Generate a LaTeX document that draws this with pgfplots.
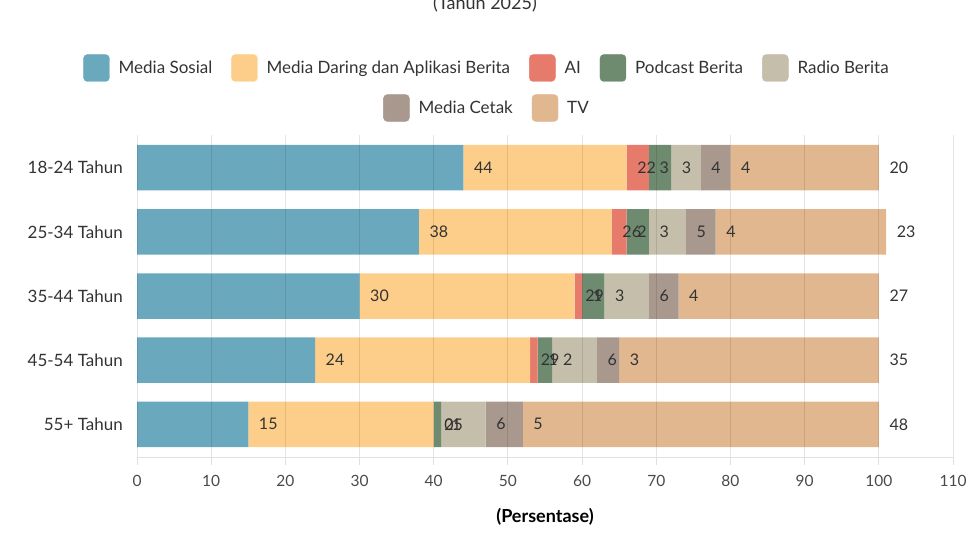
\documentclass[border=0pt]{standalone}
\usepackage{fontspec}
\setmainfont{Lato}
\usepackage{pgfplots}
\usepackage{pgfplotstable}
\pgfplotsset{compat=1.18}

\definecolor{cSosial}{HTML}{6AA8BE}
\definecolor{cDaring}{HTML}{FDCD8A}
\definecolor{cAI}{HTML}{E67B6C}
\definecolor{cPodcast}{HTML}{6E8B70}
\definecolor{cRadio}{HTML}{C5BEAA}
\definecolor{cCetak}{HTML}{A8988E}
\definecolor{cTV}{HTML}{E0B78E}
\definecolor{txt}{HTML}{333333}
\definecolor{ticktxt}{HTML}{4A4A4A}

% Share of main news source by age group (percent); row 4 is the top bar
\pgfplotstableread{
row sosial daring ai podcast radio cetak tv
4   44     22     3  3       4     4     20
3   38     26     2  3       5     4     23
2   30     29     1  3       6     4     27
1   24     29     1  2       6     3     35
0   15     25     0  1       6     5     48
}\datatable

\newcommand{\fs}{\fontsize{15.5}{18}\selectfont}
\newcommand{\fl}{\fontsize{17}{20}\selectfont}
\newcommand{\fv}{\fontsize{16}{19}\selectfont}
\newcommand{\ft}{\fontsize{18}{21}\selectfont}

\begin{document}
\begin{tikzpicture}
\useasboundingbox (0pt,0pt) rectangle (968pt,-543pt);

\node[anchor=base, font=\ft, text=txt] at (485pt,-10pt) {(Tahun 2025)};

% legend, first row
\begin{axis}[
  at={(486pt,-68pt)}, anchor=center,
  hide axis, scale only axis, width=10pt, height=10pt,
  xmin=0, xmax=1, ymin=0, ymax=1,
  legend columns=5,
  legend style={at={(0.5,0.5)}, anchor=center, draw=none, fill=none,
    font=\fl, text=txt, nodes={inner sep=0pt},
    /tikz/every odd column/.append style={column sep=9pt},
    /tikz/every even column/.append style={column sep=19pt}},
  legend cell align=left,
]
\addlegendimage{legend image code/.code={\fill[cSosial, rounded corners=4pt] (0pt,-13.5pt) rectangle (26pt,13.5pt);}}
\addlegendentry{Media Sosial}
\addlegendimage{legend image code/.code={\fill[cDaring, rounded corners=4pt] (0pt,-13.5pt) rectangle (26pt,13.5pt);}}
\addlegendentry{Media Daring dan Aplikasi Berita}
\addlegendimage{legend image code/.code={\fill[cAI, rounded corners=4pt] (0pt,-13.5pt) rectangle (26pt,13.5pt);}}
\addlegendentry{AI}
\addlegendimage{legend image code/.code={\fill[cPodcast, rounded corners=4pt] (0pt,-13.5pt) rectangle (26pt,13.5pt);}}
\addlegendentry{Podcast Berita}
\addlegendimage{legend image code/.code={\fill[cRadio, rounded corners=4pt] (0pt,-13.5pt) rectangle (26pt,13.5pt);}}
\addlegendentry{Radio Berita}
\end{axis}

% legend, second row
\begin{axis}[
  at={(486pt,-108pt)}, anchor=center,
  hide axis, scale only axis, width=10pt, height=10pt,
  xmin=0, xmax=1, ymin=0, ymax=1,
  legend columns=2,
  legend style={at={(0.5,0.5)}, anchor=center, draw=none, fill=none,
    font=\fl, text=txt, nodes={inner sep=0pt},
    /tikz/every odd column/.append style={column sep=9pt},
    /tikz/every even column/.append style={column sep=19pt}},
  legend cell align=left,
]
\addlegendimage{legend image code/.code={\fill[cCetak, rounded corners=4pt] (0pt,-13.5pt) rectangle (26pt,13.5pt);}}
\addlegendentry{Media Cetak}
\addlegendimage{legend image code/.code={\fill[cTV, rounded corners=4pt] (0pt,-13.5pt) rectangle (26pt,13.5pt);}}
\addlegendentry{TV}
\end{axis}

% stacked bars, each value written just right of its segment
\begin{axis}[
  compat/bar nodes=1.8,
  at={(137pt,-457pt)}, anchor=south west,
  scale only axis, width=816pt, height=322pt,
  xbar stacked, bar width=45.5pt,
  xmin=0, xmax=110, ymin=-0.51, ymax=4.51,
  axis on top,
  axis x line*=bottom, axis y line*=left,
  y axis line style={draw=none},
  x axis line style={draw=black!12, line width=1pt},
  xtick={0,10,...,110},
  ytick={0,1,2,3,4},
  yticklabels={55+ Tahun,45-54 Tahun,35-44 Tahun,25-34 Tahun,18-24 Tahun},
  tick align=outside, major tick length=8pt,
  xtick style={draw=black!12, line width=1pt},
  ytick style={draw=none},
  xmajorgrids, grid style={draw=black, opacity=0.1, line width=1pt},
  /pgf/number format/assume math mode=true,
  ticklabel style={font=\fs},
  xticklabel style={text=ticktxt, yshift=-7pt},
  yticklabel style={text=txt, inner sep=0pt, xshift=-6pt, font=\fl},
  xlabel={\textbf{(Persentase)}},
  xlabel style={at={(axis description cs:0.5,0)}, anchor=center, yshift=-60pt, font=\ft, text=black},
  nodes near coords,
  every node near coord/.append style={anchor=west, inner sep=0pt, xshift=10.5pt, font=\fv, text=txt},
]
\addplot[fill=cSosial, draw=none, point meta=explicit] table[x=sosial, y=row, meta=sosial] {\datatable};
\addplot[fill=cDaring, draw=none, point meta=explicit] table[x=daring, y=row, meta=daring] {\datatable};
\addplot[fill=cAI, draw=none, point meta=explicit] table[x=ai, y=row, meta=ai] {\datatable};
\addplot[fill=cPodcast, draw=none, point meta=explicit] table[x=podcast, y=row, meta=podcast] {\datatable};
\addplot[fill=cRadio, draw=none, point meta=explicit] table[x=radio, y=row, meta=radio] {\datatable};
\addplot[fill=cCetak, draw=none, point meta=explicit] table[x=cetak, y=row, meta=cetak] {\datatable};
\addplot[fill=cTV, draw=none, point meta=explicit] table[x=tv, y=row, meta=tv] {\datatable};
\end{axis}
\end{tikzpicture}
\end{document}
